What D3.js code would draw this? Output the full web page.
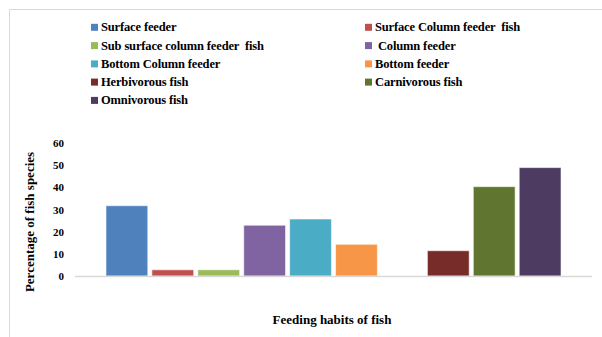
<!DOCTYPE html>
<html>
<head>
<meta charset="utf-8">
<script src="https://cdn.jsdelivr.net/npm/d3@7"></script>
<style>
  html, body { margin: 0; padding: 0; background: #fff; }
  svg text { font-family: "Liberation Serif", "Times New Roman", serif; font-weight: bold; fill: #000; white-space: pre; }
</style>
</head>
<body>
<svg id="chart" width="602" height="337"></svg>
<script>
// Feeding-habit groups of the fish species, in percent
const categories = [
  "Surface feeder",
  "Surface Column feeder  fish",
  "Sub surface column feeder  fish",
  " Column feeder",
  "Bottom Column feeder",
  "Bottom feeder",
  "Herbivorous fish",
  "Carnivorous fish",
  "Omnivorous fish"
];
const values = [31.7, 2.8, 2.8, 22.9, 25.7, 14.3, 11.4, 40.3, 48.9];
const colors = ["#4F81BD", "#C0504D", "#9BBB59", "#8064A2", "#4BACC6",
                "#F79646", "#772C2A", "#5F7530", "#4D3B62"];
const yTicks = [0, 10, 20, 30, 40, 50, 60];
// feeding-zone bars come first, then one empty slot, then the diet bars
const slots = [0, 1, 2, 3, 4, 5, "gap", 6, 7, 8];

const svg = d3.select("#chart");

// outer frame (left and top edges)
svg.append("path")
  .attr("d", "M9.5,337 V9.5 H602")
  .attr("fill", "none")
  .attr("stroke", "#d9d9d9")
  .attr("stroke-width", 1);

const x = d3.scaleBand()
  .domain(slots.map(String))
  .range([75, 592])
  .paddingInner(0.09)
  .paddingOuter(0.675);

const y = d3.scaleLinear().domain([0, 60]).range([276, 143]);

// bars
svg.append("g").selectAll("rect")
  .data(values.map((v, i) => ({ v, i })))
  .join("rect")
  .attr("x", d => x(String(d.i)))
  .attr("width", x.bandwidth())
  .attr("y", d => y(d.v))
  .attr("height", d => y(0) - y(d.v))
  .attr("fill", d => colors[d.i])
  .attr("stroke", "#ffffff")
  .attr("stroke-opacity", 0.55)
  .attr("stroke-width", 1);

// baseline
svg.append("line")
  .attr("x1", 75).attr("x2", 592)
  .attr("y1", y(0) + 0.5).attr("y2", y(0) + 0.5)
  .attr("stroke", "#d9d9d9")
  .attr("stroke-width", 1.5);

// y axis labels
const yAxis = svg.append("g")
  .attr("transform", "translate(75,0)")
  .call(d3.axisLeft(y).tickValues(yTicks).tickSize(0).tickPadding(11));
yAxis.select(".domain").remove();
yAxis.selectAll("text")
  .style("font-family", '"Liberation Serif", serif')
  .style("font-weight", "bold")
  .style("font-size", "11px")
  .attr("fill", "#000");

// axis titles
svg.append("text")
  .attr("transform", "translate(34,222) rotate(-90)")
  .attr("text-anchor", "middle")
  .style("font-size", "13px")
  .text("Percentage of fish species");

svg.append("text")
  .attr("x", 332)
  .attr("y", 324)
  .attr("text-anchor", "middle")
  .style("font-size", "13px")
  .text("Feeding habits of fish");

// legend in two columns
const legendCols = [91, 365];
const legendRows = [27.3, 45.6, 63.9, 82.1, 100.4];
const legend = svg.append("g").selectAll("g")
  .data(categories.map((c, i) => ({ c, i })))
  .join("g")
  .attr("transform", d => `translate(${legendCols[d.i % 2]},${legendRows[Math.floor(d.i / 2)]})`);
legend.append("rect")
  .attr("x", 0).attr("y", -3.5)
  .attr("width", 7).attr("height", 7)
  .attr("fill", d => colors[d.i]);
legend.append("text")
  .attr("x", 10)
  .attr("y", 4)
  .style("font-size", "12.5px")
  .style("letter-spacing", "-0.15px")
  .text(d => d.c);
</script>
</body>
</html>
